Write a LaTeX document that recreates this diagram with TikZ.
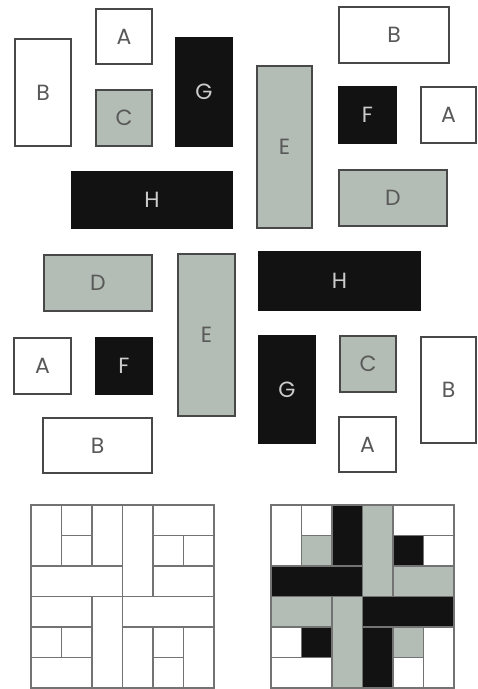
\documentclass[tikz,border=0pt]{standalone}
\usepackage{fontspec}
\setmainfont{Poppins}
\definecolor{tilegray}{RGB}{180,189,181}
\definecolor{tileline}{RGB}{72,72,72}
\definecolor{tileblack}{RGB}{18,18,18}
\definecolor{gridline}{RGB}{115,115,115}
\tikzset{
  piece/.style={draw=tileline, line width=1.6pt, inner sep=0pt, font=\fontsize{22}{22}\selectfont},
  wpiece/.style={piece, fill=white, text=black!65},
  gpiece/.style={piece, fill=tilegray, text=black!65},
  kpiece/.style={piece, fill=tileblack, draw=tileblack, text=black!20},
}

\begin{document}
\begin{tikzpicture}[x=1pt,y=-1pt]
  \useasboundingbox[fill=white] (0,0) rectangle (478,689);
  % loose pieces, top half
  \node[wpiece, minimum width=56,  minimum height=55]  (a1) at (124,36.5)   {A};
  \node[wpiece, minimum width=56,  minimum height=107] (b1) at (43,92.5)    {B};
  \node[gpiece, minimum width=56,  minimum height=56]  (c1) at (124,118)    {C};
  \node[kpiece, minimum width=56,  minimum height=108] (g1) at (204,92)     {G};
  \node[kpiece, minimum width=160, minimum height=56]  (h1) at (152,200)    {H};
  \node[wpiece, minimum width=110, minimum height=56]  (b2) at (394,35)     {B};
  \node[gpiece, minimum width=55,  minimum height=162] (e1) at (284.5,147)  {E};
  \node[kpiece, minimum width=57,  minimum height=56]  (f1) at (367.5,115)  {F};
  \node[wpiece, minimum width=55,  minimum height=56]  (a2) at (448.5,115)  {A};
  \node[gpiece, minimum width=108, minimum height=56]  (d1) at (393,198)    {D};
  % loose pieces, bottom half
  \node[gpiece, minimum width=108, minimum height=56]  (d2) at (98,283)     {D};
  \node[wpiece, minimum width=57,  minimum height=56]  (a3) at (42.5,366)   {A};
  \node[kpiece, minimum width=56,  minimum height=56]  (f2) at (124,366)    {F};
  \node[gpiece, minimum width=57,  minimum height=162] (e2) at (206.5,335)  {E};
  \node[wpiece, minimum width=109, minimum height=55]  (b3) at (97.5,445.5) {B};
  \node[kpiece, minimum width=161, minimum height=58]  (h2) at (339.5,281)  {H};
  \node[kpiece, minimum width=56,  minimum height=107] (g2) at (287,389.5)  {G};
  \node[gpiece, minimum width=56,  minimum height=56]  (c2) at (368,364)    {C};
  \node[wpiece, minimum width=55,  minimum height=106] (b4) at (448.5,390)  {B};
  \node[wpiece, minimum width=57,  minimum height=55]  (a4) at (367.5,444.5) {A};
  % the two 6x6 squares: outline and coloured
  \foreach \c/\r/\w/\h/\f in {0/0/1/2/white, 1/0/1/1/white, 2/0/1/2/tileblack, 3/0/1/3/tilegray,
      4/0/2/1/white, 1/1/1/1/tilegray, 4/1/1/1/tileblack, 5/1/1/1/white, 0/2/3/1/tileblack,
      4/2/2/1/tilegray, 0/3/2/1/tilegray, 2/3/1/3/tilegray, 3/3/3/1/tileblack, 0/4/1/1/white,
      1/4/1/1/tileblack, 3/4/1/2/tileblack, 4/4/1/1/tilegray, 5/4/1/2/white, 0/5/2/1/white,
      4/5/1/1/white} {
    \draw[gridline, line width=1.3pt] ({31+30.5*\c},{505+30.5*\r}) rectangle ++({30.5*\w},{30.5*\h});
    \draw[gridline, line width=1.3pt, fill=\f] ({271+30.5*\c},{505+30.5*\r}) rectangle ++({30.5*\w},{30.5*\h});
  }
\end{tikzpicture}
\end{document}
